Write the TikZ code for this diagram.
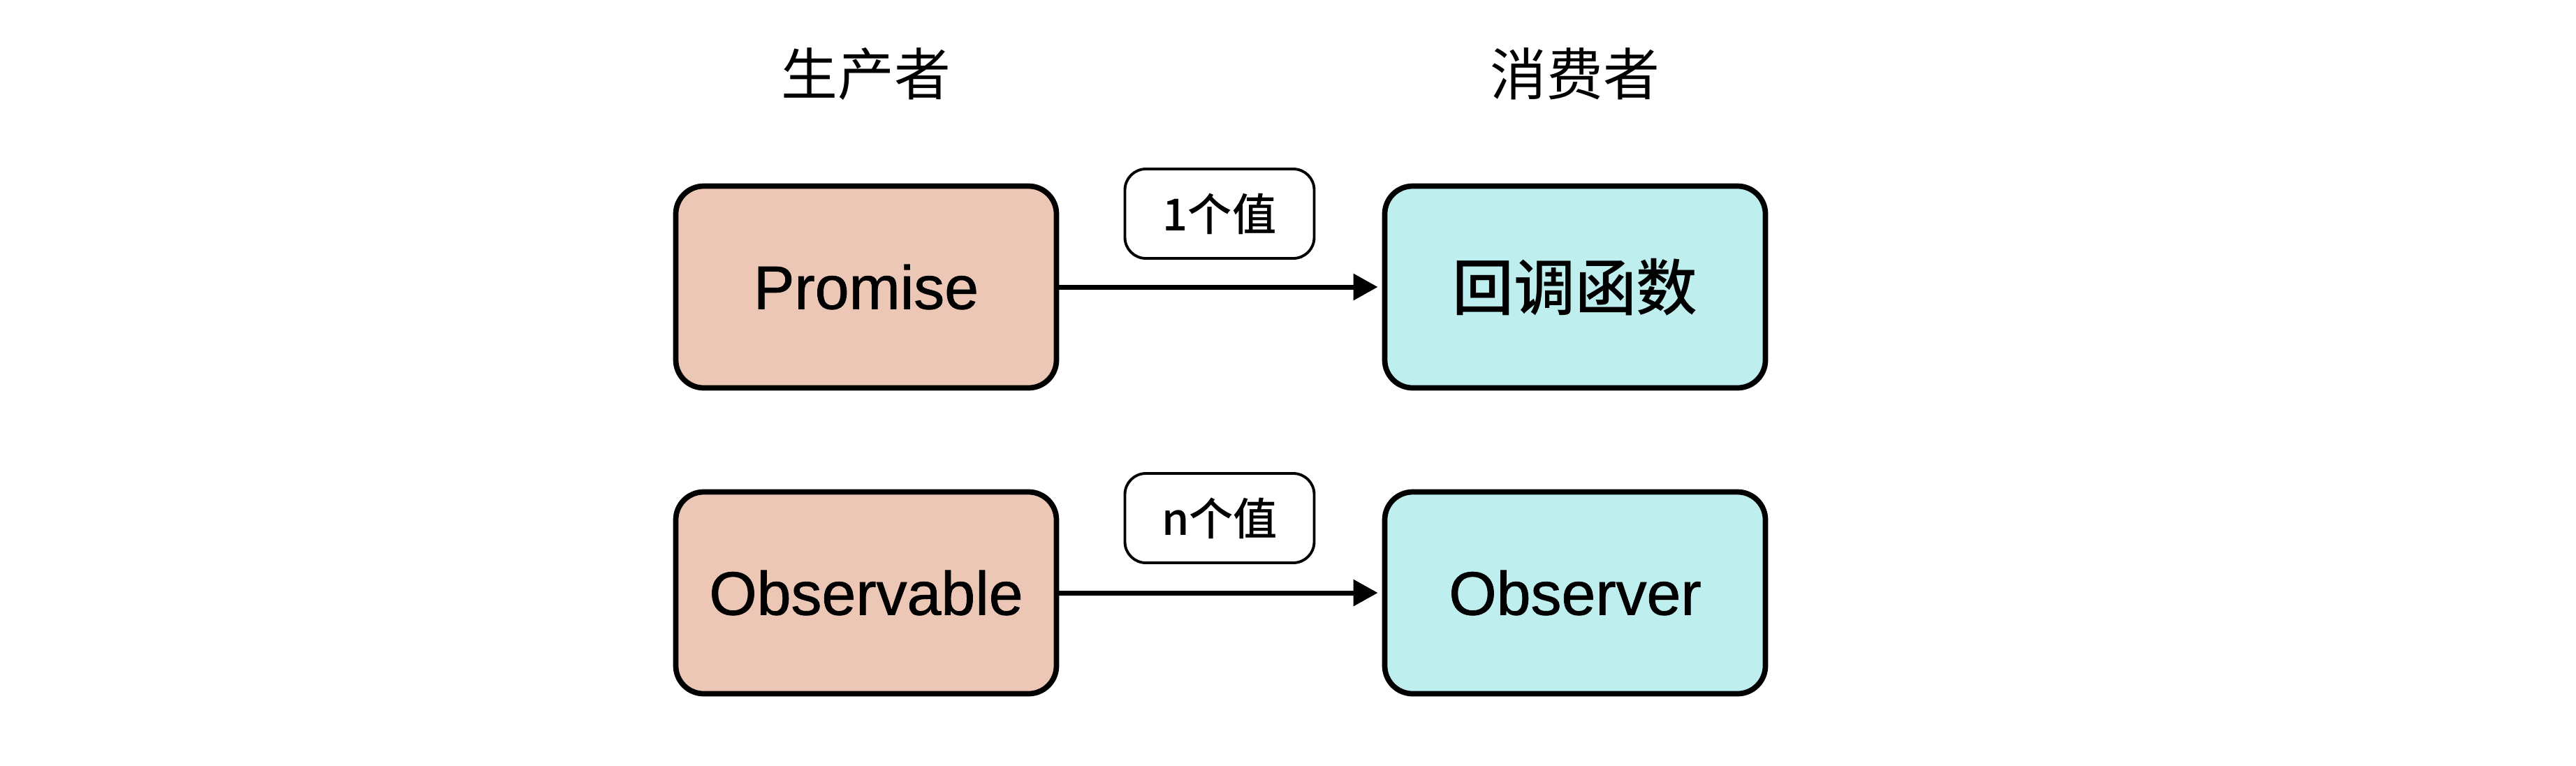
\documentclass[tikz,border=0pt]{standalone}
\usepackage{fontspec}
\setmainfont{Liberation Sans}
\newfontfamily\boxfont{Liberation Sans}[BoldFont=Liberation Sans, BoldFeatures={FakeBold=0.9}]
\newfontfamily\cjk{Noto Sans CJK SC}
\newfontfamily\cjkmed{Noto Sans CJK SC Medium}

\usetikzlibrary{arrows.meta}

\definecolor{prodfill}{RGB}{236,199,181}
\definecolor{consfill}{RGB}{190,239,238}

\begin{document}
\begin{tikzpicture}[
    box/.style={draw, line width=2.2pt, rounded corners=0.4cm,
        minimum width=5.45cm, minimum height=2.89cm,
        font=\boxfont\bfseries\fontsize{25}{30}\selectfont},
    valbox/.style={draw, line width=1.1pt, fill=white, rounded corners=0.3cm,
        minimum width=2.71cm, minimum height=1.28cm,
        font=\cjkmed\fontsize{18}{22}\selectfont},
    head/.style={font=\cjk\fontsize{23}{28}\selectfont},
    flow/.style={line width=2pt, -{Triangle[length=10pt, width=10.5pt]}, shorten >=0.06cm}
]
    % Frame:
    \useasboundingbox (0,0) rectangle (36.88,-10.96);

    % Headers:
    \node[head] (prod) at (12.40,-1.06) {生产者};
    \node[head] (cons) at (22.55,-1.06) {消费者};

    % Boxes:
    \node[box, fill=prodfill] (promise) at (12.40,-4.11) {Promise};
    \node[box, fill=consfill, font=\cjkmed\fontsize{25}{30}\selectfont] (callback) at (22.55,-4.11) {回调函数};
    \node[box, fill=prodfill] (observable) at (12.40,-8.49) {Observable};
    \node[box, fill=consfill] (observer) at (22.55,-8.49) {Observer};

    % Values:
    \node[valbox] (one) at (17.46,-3.06) {1个值};
    \node[valbox] (many) at (17.46,-7.42) {n个值};

    \draw[flow] (promise) -- (callback);
    \draw[flow] (observable) -- (observer);
\end{tikzpicture}
\end{document}
